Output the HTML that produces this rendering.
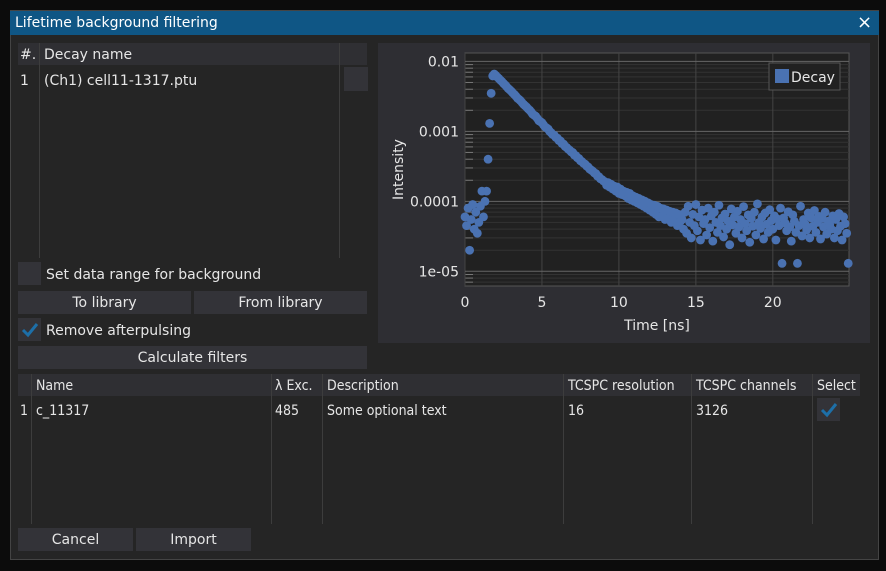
<!DOCTYPE html>
<html><head><meta charset="utf-8">
<style>
*{box-sizing:border-box}
body{margin:0;width:886px;height:571px;background:#0c0c0c;font-family:"DejaVu Sans","Liberation Sans",sans-serif;font-size:14px;color:#e6e6e6;position:relative;overflow:hidden}
.abs{position:absolute}
#dlg{left:10px;top:10px;width:869px;height:550px;background:#252525;border:1px solid #444}
#title{left:10px;top:11px;width:869px;height:24px;background:#0f5685;color:#fff;padding:4px 0 0 5px;font-size:14px}
.hdr{background:#2f2f33}
.btn{background:#333338;text-align:center;line-height:24px}
.cb{background:#333338;width:23px;height:23px}
.vl{width:1px;background:#3d3d3d}
.cond{font-family:"DejaVu Sans Condensed","Liberation Sans Narrow","DejaVu Sans",sans-serif}
</style></head><body>
<div class="abs" id="dlg"></div>
<div class="abs" id="title">Lifetime background filtering</div>
<div class="abs" style="left:857px;top:12px;color:#fff;font-size:18px">×</div>

<div class="abs hdr" style="left:18px;top:43px;width:349px;height:22px"></div>
<div class="abs" style="left:20px;top:47px">#.</div>
<div class="abs" style="left:44px;top:47px">Decay name</div>
<div class="abs vl" style="left:39px;top:43px;height:215px"></div>
<div class="abs vl" style="left:339px;top:43px;height:215px"></div>
<div class="abs" style="left:20px;top:73px">1</div>
<div class="abs" style="left:44px;top:73px">(Ch1) cell11-1317.ptu</div>
<div class="abs cb" style="left:344px;top:67px;width:24px;height:24px"></div>

<div class="abs cb" style="left:18px;top:262px"></div>
<div class="abs" style="left:46px;top:267px">Set data range for background</div>
<div class="abs btn" style="left:18px;top:291px;width:173px;height:23px">To library</div>
<div class="abs btn" style="left:194px;top:291px;width:173px;height:23px">From library</div>
<div class="abs cb" style="left:18px;top:318px"><svg width="23" height="23"><path d="M5 12 L10 17 L19 6" stroke="#1d6fa8" stroke-width="3" fill="none"/></svg></div>
<div class="abs" style="left:46px;top:323px">Remove afterpulsing</div>
<div class="abs btn" style="left:18px;top:346px;width:349px;height:23px">Calculate filters</div>

<div class="abs" style="left:378px;top:43px;width:492px;height:300px;background:#2e2e33">
<svg id="chart" width="492" height="300" style="font-family:'DejaVu Sans',sans-serif"></svg>
</div>

<div class="abs cond" style="left:0;top:0;width:886px;height:571px;font-size:14px">
<div class="abs hdr" style="left:18px;top:374px;width:842px;height:22px"></div>
<div class="abs vl" style="left:31px;top:374px;height:150px"></div>
<div class="abs vl" style="left:271px;top:374px;height:150px"></div>
<div class="abs vl" style="left:322px;top:374px;height:150px"></div>
<div class="abs vl" style="left:563px;top:374px;height:150px"></div>
<div class="abs vl" style="left:691px;top:374px;height:150px"></div>
<div class="abs vl" style="left:812px;top:374px;height:150px"></div>
<div class="abs" style="left:36px;top:378px">Name</div>
<div class="abs" style="left:275px;top:378px">λ Exc.</div>
<div class="abs" style="left:327px;top:378px">Description</div>
<div class="abs" style="left:568px;top:378px">TCSPC resolution</div>
<div class="abs" style="left:696px;top:378px">TCSPC channels</div>
<div class="abs" style="left:817px;top:378px">Select</div>
<div class="abs" style="left:20px;top:403px">1</div>
<div class="abs" style="left:36px;top:403px">c_11317</div>
<div class="abs" style="left:275px;top:403px">485</div>
<div class="abs" style="left:327px;top:403px">Some optional text</div>
<div class="abs" style="left:568px;top:403px">16</div>
<div class="abs" style="left:696px;top:403px">3126</div>
<div class="abs cb" style="left:817px;top:398px"><svg width="23" height="23"><path d="M5 12 L10 17 L19 6" stroke="#1d6fa8" stroke-width="3" fill="none"/></svg></div>
<div class="abs btn" style="left:18px;top:528px;width:115px;height:23px;font-family:'DejaVu Sans',sans-serif">Cancel</div>
<div class="abs btn" style="left:136px;top:528px;width:115px;height:23px;font-family:'DejaVu Sans',sans-serif">Import</div>
</div>

<script>
const binWidthNs = 0.1;
const intensityPpm = [
60,45,80,20,55,90,40,70,35,50,85,140,60,100,
140,400,1300,3500,6200,6600,6300,
5980,5700,5390,5150,4850,4620,4370,4120,3940,3760,3550,3380,3200,3000,2880,2750,2590,2440,2330,2230,2100,2010,1890,1760,1700,1640,1530,1420,1380,1330,1240,1160,1120,1080,1000,
955,900,880,820,800,740,730,670,660,610,590,560,540,510,500,460,450,420,410,380,370,350,340,320,310,290,280,270,255,250,230,225,210,205,195,
190,170,185,160,175,150,165,140,160,130,150,125,140,120,135,110,130,105,120,100,115,95,110,90,105,
85,100,80,95,75,90,70,88,65,85,60,80,62,78,55,75,58,72,50,70,55,68,45,65,52,
55,40,70,35,85,50,30,65,45,90,
38,60,28,75,48,55,33,80,42,62,
27,70,50,36,88,45,58,31,66,40,
52,24,78,46,60,35,72,43,55,30,
84,48,38,64,26,57,44,70,33,92,
50,41,60,29,68,47,36,76,53,40,
62,28,56,45,80,13,58,49,38,71,
43,27,64,52,36,13,45,85,32,55,
47,39,68,30,58,44,74,36,50,61,
29,57,43,70,34,52,46,40,62,30,
55,38,67,44,28,60,48,35,13];
const xTicks = [0,5,10,15,20];
const yTicks = [0.01,0.001,0.0001,0.00001];
const yTickLabels = ["0.01","0.001","0.0001","1e-05"];
const seriesName = "Decay";

const NS="http://www.w3.org/2000/svg";
const svg=document.getElementById('chart');
const L=87,R=471,T=10,B=243;
const xMin=0,xMax=24.95,yMinLog=-5.21,yMaxLog=-1.88;
function xs(v){return L+(v-xMin)/(xMax-xMin)*(R-L);}
function ys(v){return B-(Math.log10(v)-yMinLog)/(yMaxLog-yMinLog)*(B-T);}
function mk(tag,attrs){const e=document.createElementNS(NS,tag);for(const k in attrs)e.setAttribute(k,attrs[k]);svg.appendChild(e);return e;}
const bg=mk('rect',{x:L,y:T,width:R-L,height:B-T,fill:'#212121',stroke:'#555'});


for(let d=-6;d<=-2;d++){for(let m=2;m<=9;m++){const v=m*Math.pow(10,d);const y=ys(v);if(y<T||y>B)continue;
 const l=mk('line',{x1:L,x2:R,y1:y,y2:y,stroke:'#333','stroke-width':1});
 
 
 const t=mk('line',{x1:L,x2:L+8,y1:y,y2:y,stroke:'#777','stroke-width':1});
 
 }}
xTicks.forEach(v=>{const x=xs(v);
 const l=mk('line',{x1:x,x2:x,y1:T,y2:B,stroke:'#444'});
 
 
 const t=mk('text',{x:x,y:B+21,fill:'#e6e6e6','font-size':14,'text-anchor':'middle'});t.textContent=v;
 
 });
yTicks.forEach((v,i)=>{const y=ys(v);
 const l=mk('line',{x1:L,x2:R,y1:y,y2:y,stroke:'#666'});
 
 
 const t=mk('text',{x:L-6,y:y+5,fill:'#e6e6e6','font-size':14,'text-anchor':'end'});t.textContent=yTickLabels[i];
 
 });
const g=document.createElementNS(NS,'g');svg.appendChild(g);


intensityPpm.forEach((p,i)=>{const t=i*binWidthNs;if(t>xMax)return;const c=document.createElementNS(NS,'circle');
 c.setAttribute('cx',xs(t));c.setAttribute('cy',ys(p*1e-6));c.setAttribute('r',4.4);c.setAttribute('fill','#4a72b2');
 
 
 g.appendChild(c);});
const xt=mk('text',{x:(L+R)/2,y:287,fill:'#e6e6e6','font-size':14,'text-anchor':'middle'});xt.textContent='Time [ns]';


const yt=mk('text',{x:0,y:0,fill:'#e6e6e6','font-size':14,'text-anchor':'middle',transform:'translate(25,'+((T+B)/2)+') rotate(-90)'});yt.textContent='Intensity';


const lg=mk('rect',{x:391,y:20,width:71,height:27,fill:'#212121',stroke:'#555'});


const ls=mk('rect',{x:397,y:26,width:14,height:14,fill:'#4a72b2'});


const lt=mk('text',{x:413,y:39,fill:'#e6e6e6','font-size':14});lt.textContent=seriesName;


</script>
</body></html>
